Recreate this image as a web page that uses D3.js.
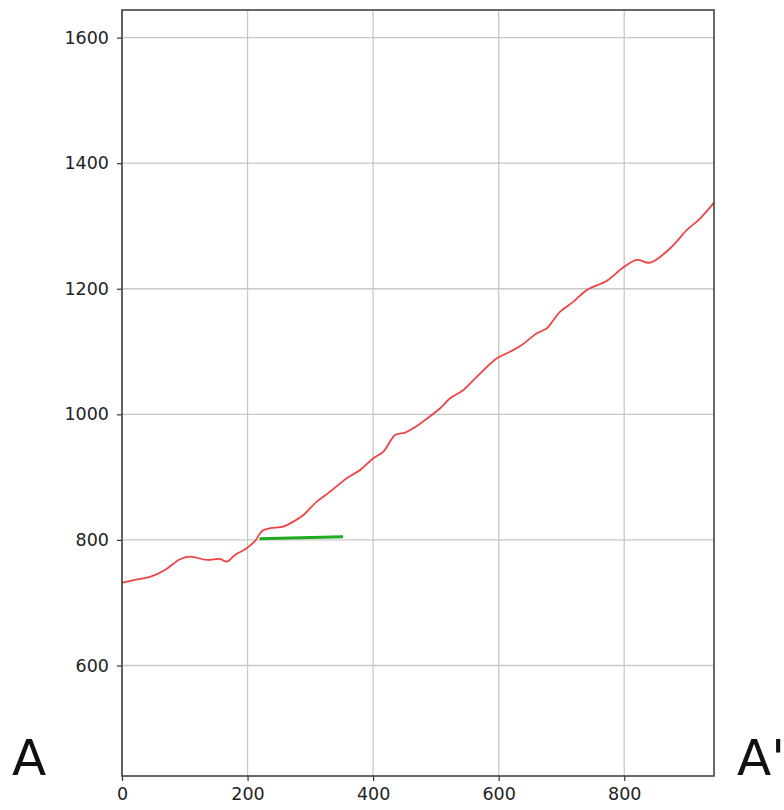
<!DOCTYPE html>
<html>
<head>
<meta charset="utf-8">
<script src="https://cdn.jsdelivr.net/npm/d3@7"></script>
<style>
  html, body { margin: 0; padding: 0; background: #fff; }
  svg { display: block; }
  text { font-family: "DejaVu Sans", sans-serif; }
</style>
</head>
<body>
<svg id="chart" width="784" height="810"></svg>
<script>
// Profile distance (x) and elevation (y) of the red section line
const profileX = [0, 20.7, 44.6, 68.5, 92.4, 108.4, 135, 156.2, 166.9, 180.1, 198.7, 212, 223.1, 235.9, 257, 273, 289, 310.3, 331.5, 358.1, 379.3, 400.5, 416.4, 435, 451, 464.2, 482.9, 506.8, 522.7, 543.9, 565.3, 597.1, 613.1, 634.3, 660.9, 676.8, 687.3, 698, 719.2, 740.5, 772.4, 798.9, 820.2, 841.4, 873.3, 899.9, 921.2, 943];
const profileY = [731.5, 736.3, 741.1, 752.2, 769.3, 773.4, 768.2, 769.7, 765.4, 776.1, 786.8, 798.4, 814.3, 818.6, 821.2, 829.1, 839.8, 861, 876.9, 898.3, 911.5, 930.1, 940.6, 967.2, 970.9, 977.9, 991.1, 1009.7, 1025.6, 1038.9, 1060, 1089.3, 1097.3, 1108.9, 1129.1, 1137.1, 1150.3, 1163.5, 1179.5, 1198.1, 1212.9, 1234.3, 1245.9, 1241.6, 1264.5, 1293.7, 1312.3, 1337.1];
// Green segment
const segX = [219, 352];
const segY = [802, 805];
// Ticks
const xTicks = [0, 200, 400, 600, 800];
const yTicks = [600, 800, 1000, 1200, 1400, 1600];
const xDomain = [0, 943];
const yDomain = [424, 1644];
const labelLeft = "A";
const labelRight = "A'";

const svg = d3.select("#chart");
const m = { left: 122, right: 714, top: 10, bottom: 776 };
const x = d3.scaleLinear().domain(xDomain).range([m.left, m.right]);
const y = d3.scaleLinear().domain(yDomain).range([m.bottom, m.top]);

// grid
const grid = svg.append("g");
grid.selectAll("line.gx").data(xTicks).join("line")
  .attr("x1", d => x(d)).attr("x2", d => x(d))
  .attr("y1", m.top).attr("y2", m.bottom)
  .attr("stroke", "#c8c8c8").attr("stroke-width", 1.3);
grid.selectAll("line.gy").data(yTicks).join("line")
  .attr("y1", d => y(d)).attr("y2", d => y(d))
  .attr("x1", m.left).attr("x2", m.right)
  .attr("stroke", "#c8c8c8").attr("stroke-width", 1.3);

// lines
const pts = profileX.map((d, i) => [d, profileY[i]]);
svg.append("path")
  .datum(pts)
  .attr("fill", "none")
  .attr("stroke", "#ee4444")
  .attr("stroke-width", 1.8)
  .attr("d", d3.line().x(d => x(d[0])).y(d => y(d[1])).curve(d3.curveCatmullRom));

const seg = segX.map((d, i) => [d, segY[i]]);
svg.append("path")
  .datum(seg)
  .attr("fill", "none")
  .attr("stroke", "#1faa1f")
  .attr("stroke-width", 3)
  .attr("d", d3.line().x(d => x(d[0])).y(d => y(d[1])));

// axes
const xAxis = d3.axisBottom(x).tickValues(xTicks).tickSize(5).tickPadding(7).tickFormat(d3.format("d"));
const yAxis = d3.axisLeft(y).tickValues(yTicks).tickSize(5).tickPadding(8).tickFormat(d3.format("d"));
const gx = svg.append("g").attr("transform", `translate(0,${m.bottom})`).call(xAxis);
const gy = svg.append("g").attr("transform", `translate(${m.left},0)`).call(yAxis);
[gx, gy].forEach(g => {
  g.select(".domain").remove();
  g.selectAll(".tick line").attr("stroke", "#333").attr("stroke-width", 1.2);
  g.selectAll(".tick text").attr("fill", "#222").style("font-size", "17.5px").style("font-family", "DejaVu Sans, sans-serif");
});

// frame
svg.append("rect")
  .attr("x", m.left).attr("y", m.top)
  .attr("width", m.right - m.left).attr("height", m.bottom - m.top)
  .attr("fill", "none").attr("stroke", "#444").attr("stroke-width", 1.6);

// section labels
svg.append("text").attr("x", 12).attr("y", 775).style("font-size", "50px").attr("fill", "#111").text(labelLeft);
svg.append("text").attr("x", 737).attr("y", 775).style("font-size", "50px").attr("fill", "#111").text(labelRight);
</script>
</body>
</html>
